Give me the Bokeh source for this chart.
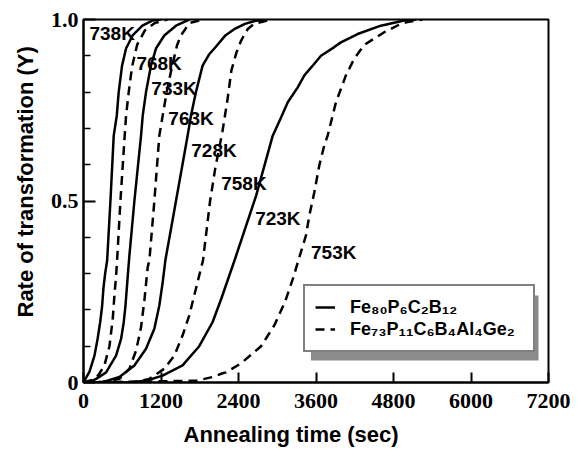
from bokeh.plotting import figure
from bokeh.models import FixedTicker, Range1d, Label, Legend, LegendItem, BoxAnnotation, Title
from bokeh.embed import file_html
from bokeh.resources import INLINE

# ---------------- data ----------------
# Fe80P6C2B12 (solid)
t_738 = [0, 93, 170, 218, 258, 288, 309, 335, 366, 417, 468, 515, 545, 597, 659, 760, 912, 1066, 1200]
y_738 = [0, 0.03, 0.074, 0.12, 0.166, 0.21, 0.26, 0.30, 0.336, 0.5, 0.68, 0.735, 0.80, 0.873, 0.92, 0.956, 0.983, 0.997, 1.0]

t_733 = [0, 100, 196, 350, 504, 582, 623, 649, 670, 690, 711, 788, 891, 917, 968, 1045, 1122, 1251, 1432, 1638]
y_733 = [0, 0.002, 0.01, 0.028, 0.074, 0.12, 0.166, 0.21, 0.258, 0.304, 0.35, 0.5, 0.68, 0.735, 0.80, 0.873, 0.92, 0.956, 0.983, 1.0]

t_728 = [0, 298, 556, 788, 968, 1097, 1174, 1226, 1267, 1432, 1612, 1664, 1741, 1844, 1950, 2050, 2190, 2350, 2500, 2650, 2800]
y_728 = [0, 0.001, 0.015, 0.047, 0.093, 0.148, 0.212, 0.276, 0.336, 0.5, 0.68, 0.735, 0.80, 0.873, 0.905, 0.925, 0.955, 0.975, 0.988, 0.996, 1.0]

t_723 = [0, 700, 968, 1225, 1534, 1792, 1998, 2132, 2338, 2673, 2930, 3059, 3163, 3317, 3420, 3574, 3677, 3883, 3986, 4244, 4604, 4964, 5150]
y_723 = [0, 0.001, 0.005, 0.019, 0.047, 0.10, 0.166, 0.23, 0.336, 0.515, 0.68, 0.73, 0.772, 0.813, 0.846, 0.878, 0.90, 0.924, 0.937, 0.96, 0.983, 0.997, 1.0]

# Fe73P11C6B4Al4Ge2 (dashed)
t_768 = [0, 150, 230, 324, 402, 453, 479, 505, 520, 572, 633, 659, 700, 752, 830, 950, 1100, 1300]
y_768 = [0, 0.008, 0.02, 0.047, 0.10, 0.176, 0.24, 0.295, 0.336, 0.5, 0.667, 0.735, 0.80, 0.87, 0.93, 0.97, 0.99, 1.0]

t_763 = [0, 300, 556, 711, 814, 891, 943, 994, 1020, 1097, 1174, 1226, 1288, 1370, 1450, 1509, 1638, 1850]
y_763 = [0, 0.002, 0.01, 0.038, 0.088, 0.152, 0.226, 0.318, 0.336, 0.5, 0.68, 0.735, 0.80, 0.87, 0.93, 0.956, 0.99, 1.0]

t_758 = [0, 800, 1020, 1251, 1406, 1535, 1638, 1715, 1792, 1850, 1960, 2040, 2150, 2230, 2290, 2370, 2441, 2544, 2642, 2900]
y_758 = [0, 0.001, 0.01, 0.038, 0.074, 0.13, 0.185, 0.24, 0.295, 0.336, 0.5, 0.59, 0.69, 0.78, 0.86, 0.91, 0.942, 0.974, 0.988, 1.0]

t_753 = [0, 1741, 1823, 1998, 2132, 2204, 2441, 2750, 2956, 3120, 3250, 3342, 3445, 3497, 3574, 3651, 3728, 3780, 3909, 4063, 4192, 4347, 4656, 4913, 5016, 5250]
y_753 = [0, 0.005, 0.008, 0.015, 0.024, 0.028, 0.053, 0.10, 0.158, 0.222, 0.29, 0.345, 0.405, 0.46, 0.524, 0.598, 0.653, 0.68, 0.772, 0.846, 0.892, 0.93, 0.965, 0.988, 0.993, 1.0]

solid_series = [("738K", t_738, y_738), ("733K", t_733, y_733), ("728K", t_728, y_728), ("723K", t_723, y_723)]
dashed_series = [("768K", t_768, y_768), ("763K", t_763, y_763), ("758K", t_758, y_758), ("753K", t_753, y_753)]

x_ticks = [0, 1200, 2400, 3600, 4800, 6000, 7200]
y_ticks = [0, 0.5, 1.0]
y_tick_labels = ["0", "0.5", "1.0"]
legend_labels = ["Fe\u2088\u2080P\u2086C\u2082B\u2081\u2082", "Fe\u2087\u2083P\u2081\u2081C\u2086B\u2084Al\u2084Ge\u2082"]

# ---------------- layout helpers (pixel -> data, for annotations only) ----------------
FX0, FX1, FY0, FY1 = 82, 548, 382, 19
def px2t(px):
    return (px - FX0) * 7200.0 / (FX1 - FX0)
def px2y(py):
    return (FY0 - py) / (FY0 - FY1)

p = figure(width=583, height=462, x_range=Range1d(0, 7200), y_range=Range1d(0, 1.0),
           output_backend="svg", toolbar_location=None,
           min_border_left=82, min_border_right=35, min_border_top=19, min_border_bottom=80)
p.xgrid.visible = False
p.ygrid.visible = False
p.outline_line_color = "black"
p.outline_line_width = 2
p.background_fill_color = "white"
p.border_fill_color = "white"

for ax in (p.xaxis, p.yaxis):
    ax.axis_line_color = "black"
    ax.axis_line_width = 2
    ax.major_tick_line_color = "black"
    ax.major_tick_line_width = 2
    ax.minor_tick_line_color = "black"
    ax.minor_tick_line_width = 1.5
    ax.major_tick_out = 0
    ax.minor_tick_out = 0
    ax.major_label_text_font = "Liberation Serif"
    ax.major_label_text_font_style = "bold"
    ax.major_label_text_font_size = "22px"
    ax.major_label_text_color = "black"

p.xaxis.ticker = FixedTicker(ticks=x_ticks)
p.xaxis.major_label_overrides = {t: str(t) for t in x_ticks}
p.xaxis.major_tick_in = 10
p.xaxis.minor_tick_in = 0
p.xaxis.major_label_standoff = 11

p.yaxis.ticker = FixedTicker(ticks=y_ticks, minor_ticks=[0.1, 0.2, 0.3, 0.4, 0.6, 0.7, 0.8, 0.9])
p.yaxis.major_label_overrides = dict(zip(y_ticks, y_tick_labels))
p.yaxis.major_tick_in = 12
p.yaxis.minor_tick_in = 7
p.yaxis.major_label_standoff = 5

renderers = {}
for name, t, y in solid_series:
    renderers[name] = p.line(t, y, line_color="black", line_width=2.5, line_join="round")
for name, t, y in dashed_series:
    renderers[name] = p.line(t, y, line_color="black", line_width=2.5, line_dash="9 6", line_join="round")

# curve labels (pixel anchors -> data)
label_pos = {"738K": (88, 33), "768K": (135, 63), "733K": (150, 88), "763K": (167, 118),
             "728K": (190, 150), "758K": (220, 183), "723K": (254, 218), "753K": (310, 252)}
for txt, (px, py) in label_pos.items():
    p.add_layout(Label(x=px2t(px), y=px2y(py), text=txt, text_font="Liberation Sans",
                       text_font_style="bold", text_font_size="19px", text_color="black",
                       text_align="left", text_baseline="middle"))

# axis titles as side titles (so they can be placed off-centre like the original)
p.add_layout(Title(text="Annealing time (sec)", align="left", offset=100, standoff=18,
                   text_font="Liberation Sans", text_font_style="bold", text_font_size="22px",
                   text_color="black"), "below")
p.add_layout(Title(text="Rate of transformation (Y)", align="left", offset=65, standoff=20,
                   text_font="Liberation Sans", text_font_style="bold", text_font_size="22px",
                   text_color="black"), "left")

# legend shadow
p.add_layout(BoxAnnotation(left=px2t(310), right=px2t(538), top=px2y(295), bottom=px2y(360),
                           fill_color="#8c8c8c", fill_alpha=1.0, line_alpha=0))

legend = Legend(items=[LegendItem(label=legend_labels[0], renderers=[renderers["738K"]]),
                       LegendItem(label=legend_labels[1], renderers=[renderers["768K"]])],
                location=(220, 30), orientation="vertical",
                border_line_color="black", border_line_width=2, background_fill_color="white",
                background_fill_alpha=1.0, label_text_font="Liberation Sans", label_text_font_style="bold",
                label_text_font_size="18px", label_text_color="black", glyph_width=20, glyph_height=22,
                label_height=22, label_width=173, label_standoff=15, padding=10, spacing=0, margin=0)
p.add_layout(legend)

open("out.html", "w").write(file_html(p, INLINE))
